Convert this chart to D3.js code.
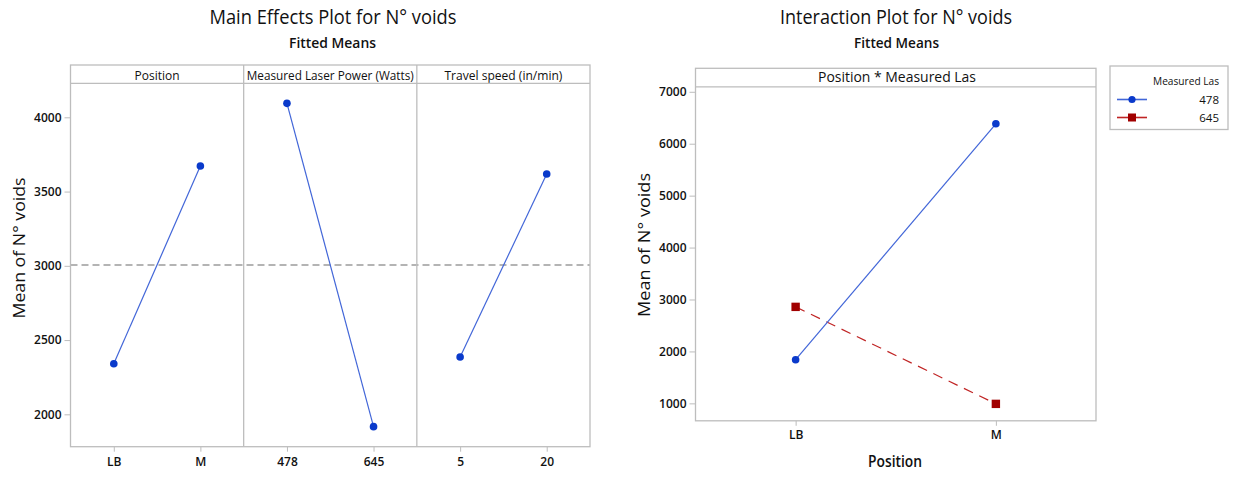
<!DOCTYPE html>
<html>
<head>
<meta charset="utf-8">
<script src="https://cdn.jsdelivr.net/npm/d3@7"></script>
<style>
  html, body { margin: 0; padding: 0; background: #fff; }
  svg { display: block; }
  text { font-family: "Open Sans", "DejaVu Sans", sans-serif; fill: #111; }
</style>
</head>
<body>
<svg id="chart" width="1233" height="477"></svg>
<script>
// ---- Main effects data (fitted means of N° voids) ----
const factors = ["Position", "Measured Laser Power (Watts)", "Travel speed (in/min)"];
const positionLevels = ["LB", "M"];
const laserLevels = ["478", "645"];
const speedLevels = ["5", "20"];
const positionMeans = [2341, 3672];
const laserMeans = [4094, 1917];
const speedMeans = [2386, 3618];
const grandMean = 3005;
const mainTicks = [2000, 2500, 3000, 3500, 4000];
const mainDomain = [1782, 4229];

// ---- Interaction data: Position * Measured Laser Power ----
const interactionLevels = ["LB", "M"];
const series478 = [1841, 6383];
const series645 = [2858, 990];
const seriesNames = ["478", "645"];
const interactionTicks = [1000, 2000, 3000, 4000, 5000, 6000, 7000];
const interactionDomain = [664, 7096];

const svg = d3.select("#chart");
const FRAME = "#bdbdbd";
const BLUE_PT = "#0a3acb";
const BLUE_LN = "#4266d8";
const RED_PT = "#a10000";
const RED_LN = "#c02424";
const fmt = d3.format("d");

function fitText(sel, len) {
  sel.attr("textLength", len).attr("lengthAdjust", "spacingAndGlyphs");
  return sel;
}

function styleTicks(axisG) {
  axisG.select(".domain").remove();
  axisG.selectAll("line").attr("stroke", FRAME);
  axisG.selectAll("text").style("font-size", "12px").style("font-weight", 600)
    .style("font-family", "'Open Sans', sans-serif").attr("fill", "#1a1a2a");
}

// ================= Main Effects Plot =================
{
  const left = 70.5, right = 590, top = 65, headBot = 83.3, bottom = 446.7;
  const y = d3.scaleLinear().domain(mainDomain).range([bottom, headBot]);
  const panels = d3.scaleBand().domain(factors).range([left, right]);
  const levelSets = [positionLevels, laserLevels, speedLevels];
  const meanSets = [positionMeans, laserMeans, speedMeans];
  const g = svg.append("g");

  fitText(g.append("text").attr("x", 333).attr("y", 24).attr("text-anchor", "middle")
    .style("font-size", "20px").style("font-weight", 500).text("Main Effects Plot for N° voids"), 247);
  fitText(g.append("text").attr("x", 332.5).attr("y", 48).attr("text-anchor", "middle")
    .style("font-size", "15px").style("font-weight", 600).text("Fitted Means"), 87);

  // y axis
  styleTicks(g.append("g").attr("transform", `translate(${left},0)`)
    .call(d3.axisLeft(y).tickValues(mainTicks).tickFormat(fmt).tickSize(6).tickPadding(3)));

  fitText(g.append("text")
    .attr("transform", `translate(25,248) rotate(-90)`)
    .attr("text-anchor", "middle").style("font-size", "17px")
    .text("Mean of N° voids"), 141);

  // mean reference line
  g.append("line").attr("x1", left).attr("x2", right)
    .attr("y1", y(grandMean)).attr("y2", y(grandMean))
    .attr("stroke", "#9c9c9c").attr("stroke-width", 1.5).attr("stroke-dasharray", "7,4");

  const headerLens = [45, 167, 118];
  factors.forEach((f, i) => {
    const x0 = panels(f), bw = panels.bandwidth();
    const x = d3.scalePoint().domain(levelSets[i]).range([x0, x0 + bw]).padding(0.5);

    fitText(g.append("text").attr("x", x0 + bw / 2).attr("y", 79.5).attr("text-anchor", "middle")
      .style("font-size", "12.5px").text(f), headerLens[i]);

    styleTicks(g.append("g").attr("transform", `translate(0,${bottom})`)
      .call(d3.axisBottom(x).tickSize(5).tickPadding(6)));

    const pts = levelSets[i].map((lv, j) => [x(lv), y(meanSets[i][j])]);
    g.append("path").attr("d", d3.line()(pts)).attr("fill", "none")
      .attr("stroke", BLUE_LN).attr("stroke-width", 1.2);
    g.selectAll(null).data(pts).enter().append("circle")
      .attr("cx", d => d[0]).attr("cy", d => d[1]).attr("r", 3.8).attr("fill", BLUE_PT);

    if (i > 0) {
      g.append("line").attr("x1", x0).attr("x2", x0).attr("y1", top).attr("y2", bottom)
        .attr("stroke", FRAME).attr("stroke-width", 1.3);
    }
  });

  g.append("rect").attr("x", left).attr("y", top).attr("width", right - left).attr("height", bottom - top)
    .attr("fill", "none").attr("stroke", FRAME).attr("stroke-width", 1.3);
  g.append("line").attr("x1", left).attr("x2", right).attr("y1", headBot).attr("y2", headBot)
    .attr("stroke", FRAME).attr("stroke-width", 1.3);
}

// ================= Interaction Plot =================
{
  const left = 695.5, right = 1096, top = 68.3, headBot = 86.8, bottom = 420.8;
  const y = d3.scaleLinear().domain(interactionDomain).range([bottom, headBot]);
  const x = d3.scalePoint().domain(interactionLevels).range([left, right]).padding(0.5);
  const g = svg.append("g");

  fitText(g.append("text").attr("x", 896).attr("y", 24).attr("text-anchor", "middle")
    .style("font-size", "20px").style("font-weight", 500).text("Interaction Plot for N° voids"), 232);
  fitText(g.append("text").attr("x", 896.5).attr("y", 48).attr("text-anchor", "middle")
    .style("font-size", "15px").style("font-weight", 600).text("Fitted Means"), 85);

  g.append("rect").attr("x", left).attr("y", top).attr("width", right - left).attr("height", bottom - top)
    .attr("fill", "none").attr("stroke", FRAME).attr("stroke-width", 1.3);
  g.append("line").attr("x1", left).attr("x2", right).attr("y1", headBot).attr("y2", headBot)
    .attr("stroke", FRAME).attr("stroke-width", 1.3);
  fitText(g.append("text").attr("x", 897).attr("y", 82).attr("text-anchor", "middle")
    .style("font-size", "14px").text("Position * Measured Las"), 158);

  styleTicks(g.append("g").attr("transform", `translate(${left},0)`)
    .call(d3.axisLeft(y).tickValues(interactionTicks).tickFormat(fmt).tickSize(6).tickPadding(3)));

  styleTicks(g.append("g").attr("transform", `translate(0,${bottom})`)
    .call(d3.axisBottom(x).tickSize(5).tickPadding(5)));

  fitText(g.append("text").attr("x", 895).attr("y", 467).attr("text-anchor", "middle")
    .style("font-size", "16px").style("font-weight", 600).text("Position"), 54);
  fitText(g.append("text")
    .attr("transform", `translate(650,245) rotate(-90)`)
    .attr("text-anchor", "middle").style("font-size", "17px")
    .text("Mean of N° voids"), 144);

  const p478 = interactionLevels.map((lv, j) => [x(lv), y(series478[j])]);
  const p645 = interactionLevels.map((lv, j) => [x(lv), y(series645[j])]);

  g.append("path").attr("d", d3.line()(p645)).attr("fill", "none")
    .attr("stroke", RED_LN).attr("stroke-width", 1.2).attr("stroke-dasharray", "10,7");
  g.append("path").attr("d", d3.line()(p478)).attr("fill", "none")
    .attr("stroke", BLUE_LN).attr("stroke-width", 1.2);

  g.selectAll(null).data(p645).enter().append("rect")
    .attr("x", d => d[0] - 4.2).attr("y", d => d[1] - 4.2)
    .attr("width", 8.4).attr("height", 8.4).attr("fill", RED_PT);
  g.selectAll(null).data(p478).enter().append("circle")
    .attr("cx", d => d[0]).attr("cy", d => d[1]).attr("r", 3.8).attr("fill", BLUE_PT);

  // legend
  const lg = svg.append("g");
  lg.append("rect").attr("x", 1110).attr("y", 66).attr("width", 118).attr("height", 63.5)
    .attr("fill", "none").attr("stroke", FRAME).attr("stroke-width", 1.3);
  fitText(lg.append("text").attr("x", 1219).attr("y", 85).attr("text-anchor", "end")
    .style("font-size", "11px").text("Measured Las"), 66);
  const legendRows = [
    { name: seriesNames[0], color: BLUE_LN, pt: BLUE_PT, shape: "circle", dy: 99.5 },
    { name: seriesNames[1], color: RED_LN, pt: RED_PT, shape: "square", dy: 117.5 }
  ];
  legendRows.forEach(r => {
    lg.append("line").attr("x1", 1117).attr("x2", 1147).attr("y1", r.dy).attr("y2", r.dy)
      .attr("stroke", r.color).attr("stroke-width", 1.6);
    if (r.shape === "circle") {
      lg.append("circle").attr("cx", 1132).attr("cy", r.dy).attr("r", 3.6).attr("fill", r.pt);
    } else {
      lg.append("rect").attr("x", 1128).attr("y", r.dy - 4).attr("width", 8).attr("height", 8).attr("fill", r.pt);
    }
    lg.append("text").attr("x", 1219).attr("y", r.dy + 4).attr("text-anchor", "end")
      .style("font-size", "11.5px").text(r.name);
  });
}
</script>
</body>
</html>
